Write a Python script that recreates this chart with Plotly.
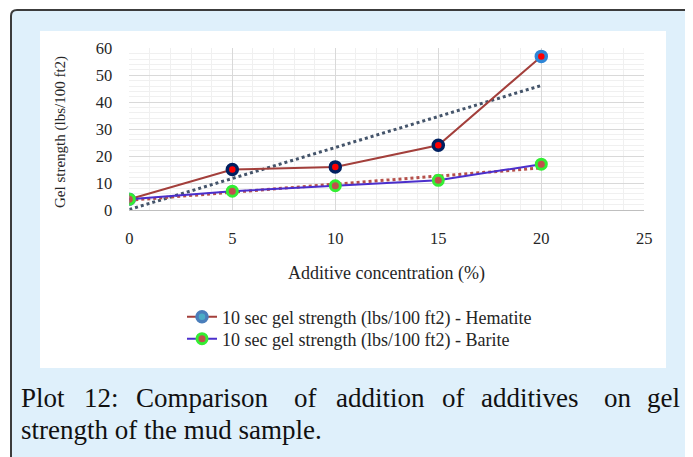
import plotly.graph_objects as go

# ---------------------------------------------------
# DATA
# ---------------------------------------------------

concentration = [0, 5, 10, 15, 20]
hematite = [4, 15, 16, 24, 57]
barite = [4, 7, 9, 11, 17]

# linear trend lines (end points)
trend_x = [0, 20]
hematite_trend = [0.2, 46.2]
barite_trend = [3.6, 15.6]

x_ticks = [0, 5, 10, 15, 20, 25]
y_ticks = [0, 10, 20, 30, 40, 50, 60]

caption_line1 = ["Plot", "12:", "Comparison", "of", "addition", "of",
                 "additives", "on", "gel"]
caption_line2 = "strength of the mud sample."

W, H = 693, 457
OFF = 8  # page body margin offsets the figure
SERIF = "Liberation Serif, Times New Roman, serif"


def px(x):
    return (x - OFF) / W


def py(y):
    return 1 - (y - OFF) / H


fig = go.Figure()

# ------------------------------------------------
# TREND LINES
# ------------------------------------------------

fig.add_trace(go.Scatter(
    x=trend_x, y=hematite_trend, mode="lines",
    line=dict(color="#44546a", width=3, dash="dot"),
    showlegend=False, hoverinfo="skip"
))

fig.add_trace(go.Scatter(
    x=trend_x, y=barite_trend, mode="lines",
    line=dict(color="#b5504b", width=3, dash="dot"),
    showlegend=False, hoverinfo="skip"
))

# ------------------------------------------------
# SERIES
# ------------------------------------------------

fig.add_trace(go.Scatter(
    x=concentration, y=hematite, mode="lines+markers",
    name="10 sec gel strength (lbs/100 ft2) - Hematite",
    legend="legend",
    line=dict(color="#a33f3b", width=2),
    marker=dict(
        size=10,
        color=["#4bacc6", "#ff0000", "#ff0000", "#ff0000", "#ff0000"],
        line=dict(color=["#4a7ebb", "#002060", "#002060", "#002060", "#2e86d6"],
                  width=3.5)
    )
))

fig.add_trace(go.Scatter(
    x=concentration, y=barite, mode="lines+markers",
    name="10 sec gel strength (lbs/100 ft2) - Barite",
    legend="legend2",
    line=dict(color="#4b2fcc", width=2),
    marker=dict(size=10, color="#c0504d",
                line=dict(color="#33ee33", width=3))
))

# ------------------------------------------------
# LAYOUT
# ------------------------------------------------

# frame: light blue box with dark border + white chart area
r = 6
x0, y0 = 11, 10
frame_path = (
    f"M {px(x0)},{py(H + 40)} L {px(x0)},{py(y0 + r)} "
    f"Q {px(x0)},{py(y0)} {px(x0 + r)},{py(y0)} L {px(W + 40)},{py(y0)} "
    f"L {px(W + 40)},{py(H + 40)} Z"
)

shapes = [
    dict(type="path", xref="paper", yref="paper", path=frame_path,
         fillcolor="#dff0fb", line=dict(color="#3c3c3c", width=2),
         layer="below"),
    dict(type="rect", xref="paper", yref="paper",
         x0=px(40), x1=px(666), y0=py(368), y1=py(31),
         fillcolor="white", line=dict(width=0), layer="below"),
]

caption_x = [20.7, 83.3, 135, 293.3, 335, 441.7, 480, 603.3, 646.7]

annotations = [
    dict(text="Additive concentration (%)", x=px(386), y=py(273),
         xanchor="center", yanchor="middle",
         xref="paper", yref="paper", showarrow=False,
         font=dict(family=SERIF, size=18, color="#262626")),
    dict(text="Gel strength (lbs/100 ft2)", x=px(60), y=py(132),
         xanchor="center", yanchor="middle",
         xref="paper", yref="paper", showarrow=False, textangle=-90,
         font=dict(family=SERIF, size=15, color="#262626")),
    dict(text=caption_line2, x=px(19), y=py(430),
         xanchor="left", yanchor="middle",
         xref="paper", yref="paper", showarrow=False,
         font=dict(family=SERIF, size=27, color="#111111")),
]

for word, wx in zip(caption_line1, caption_x):
    annotations.append(dict(
        text=word, x=px(wx - 1.5), y=py(398),
        xanchor="left", yanchor="middle",
        xref="paper", yref="paper", showarrow=False,
        font=dict(family=SERIF, size=27, color="#111111")
    ))

legend_style = dict(
    xanchor="left", yanchor="middle",
    bgcolor="rgba(0,0,0,0)",
    font=dict(family=SERIF, size=18, color="#262626"),
)

fig.update_layout(
    width=W,
    height=H,
    paper_bgcolor="white",
    plot_bgcolor="white",
    margin=dict(l=0, r=0, t=0, b=0, autoexpand=False),
    shapes=shapes,
    annotations=annotations,
    legend=dict(x=px(182), y=py(317), **legend_style),
    legend2=dict(x=px(182), y=py(339), **legend_style),
    xaxis=dict(
        domain=[px(129.3), px(644.3)],
        range=[0, 25],
        tickvals=x_ticks,
        ticklabelstandoff=13,
        automargin=False,
        showgrid=True, gridcolor="#d9d9d9", gridwidth=1,
        minor=dict(dtick=1, showgrid=True, gridcolor="#f0f0f0"),
        showline=True, linecolor="#bfbfbf", linewidth=1,
        zeroline=False,
        tickfont=dict(family=SERIF, size=16.5, color="#262626")
    ),
    yaxis=dict(
        domain=[py(210), py(48.3)],
        range=[0, 60],
        tickvals=y_ticks,
        ticklabelstandoff=16,
        automargin=False,
        showgrid=True, gridcolor="#d9d9d9", gridwidth=1,
        minor=dict(dtick=2, showgrid=True, gridcolor="#f0f0f0"),
        zeroline=False,
        tickfont=dict(family=SERIF, size=16.5, color="#262626")
    ),
)

fig.write_html("out.html")
